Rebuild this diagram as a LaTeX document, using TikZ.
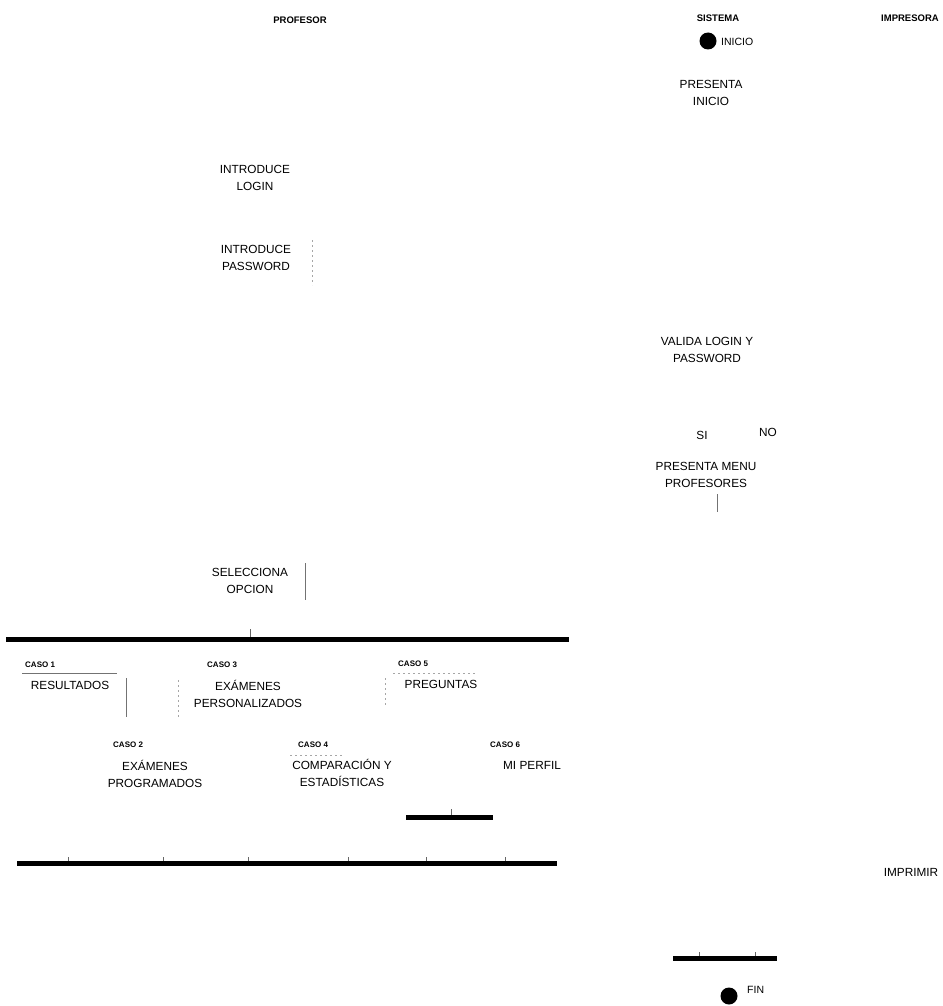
\documentclass[tikz,border=0pt]{standalone}
\usepackage{fontspec}
\setmainfont{Liberation Sans}
\begin{document}
\begin{tikzpicture}[x=1pt,y=-1pt,
  txt/.style={font=\fontsize{11.8}{17}\selectfont, align=center, inner sep=0pt},
  small/.style={font=\fontsize{10.5}{13}\selectfont, inner sep=0pt},
  hdr/.style={font=\fontsize{9.5}{11}\selectfont\bfseries, inner sep=0pt},
  caso/.style={font=\fontsize{8}{10}\selectfont\bfseries, inner sep=0pt},
  dot/.style={circle, fill=black, inner sep=0pt, minimum size=17pt},
  bar/.style={line width=5pt},
  tick/.style={black!60, line width=0.7pt},
  frag/.style={black!55, line width=0.8pt},
  fragd/.style={black!35, line width=0.7pt, dash pattern=on 2pt off 3pt}]
\useasboundingbox (0,0) rectangle (942,1006);

% swimlane headers
\node[hdr] (hprof) at (300,20) {PROFESOR};
\node[hdr] (hsis)  at (718,18) {SISTEMA};
\node[hdr] (himp)  at (910,18) {IMPRESORA};

% start
\node[dot] (inicio) at (708,41) {};
\node[small, anchor=west] (tinicio) at (721,42) {INICIO};

% system and teacher actions
\node[txt] (presinicio) at (711,93) {PRESENTA\\INICIO};
\node[txt] (login) at (255,178) {INTRODUCE\\LOGIN};
\node[txt] (passw) at (256,258) {INTRODUCE\\PASSWORD};
\node[txt] (valida) at (707,350) {VALIDA LOGIN Y\\PASSWORD};
\node[txt] (si) at (702,435) {SI};
\node[txt] (no) at (768,432) {NO};
\node[txt] (menu) at (706,475) {PRESENTA MENU\\PROFESORES};
\node[txt] (selec) at (250,581) {SELECCIONA\\OPCION};

% fragments of action borders
\draw[fragd] (312,240) -- (312,285);
\draw[frag] (305,563) -- (305,600);
\draw[frag] (717,494) -- (717,512);

% fork bar
\coordinate (forkL) at (6,639);
\coordinate (forkR) at (569,639);
\draw[bar] (forkL) -- (forkR);
\draw[tick] (250,629) -- (250,637);

% cases
\node[caso, anchor=west] (c1) at (25,665) {CASO 1};
\node[txt] (res) at (70,685) {RESULTADOS};
\draw[frag] (22,673) -- (117,673);
\draw[frag] (126,678) -- (126,717);

\node[caso, anchor=west] (c3) at (207,665) {CASO 3};
\node[txt] (pers) at (248,694) {EXÁMENES\\PERSONALIZADOS};
\draw[fragd] (178,680) -- (178,717);

\node[caso, anchor=west] (c5) at (398,664) {CASO 5};
\node[txt] (preg) at (441,684) {PREGUNTAS};
\draw[fragd] (393,673) -- (477,673);
\draw[fragd] (385,678) -- (385,707);

\node[caso, anchor=west] (c2) at (113,745) {CASO 2};
\node[txt] (prog) at (155,774) {EXÁMENES\\PROGRAMADOS};

\node[caso, anchor=west] (c4) at (298,745) {CASO 4};
\node[txt] (comp) at (342,773) {COMPARACIÓN Y\\ESTADÍSTICAS};
\draw[fragd] (290,755) -- (342,755);

\node[caso, anchor=west] (c6) at (490,745) {CASO 6};
\node[txt] (perfil) at (532,765) {MI PERFIL};

% join bars
\coordinate (j1L) at (406,817);
\coordinate (j1R) at (493,817);
\draw[bar] (j1L) -- (j1R);
\draw[tick] (451,809) -- (451,815);

\coordinate (j2L) at (17,863);
\coordinate (j2R) at (557,863);
\draw[bar] (j2L) -- (j2R);
\foreach \t in {68,163,248,348,426,505}
  \draw[tick] (\t,857) -- (\t,861);

% printer
\node[txt] (imprimir) at (911,872) {IMPRIMIR};

% final bar and end
\coordinate (j3L) at (673,958);
\coordinate (j3R) at (777,958);
\draw[bar] (j3L) -- (j3R);
\draw[tick] (699,952) -- (699,956);
\draw[tick] (755,952) -- (755,956);

\node[dot] (fin) at (729,996) {};
\node[small, anchor=west] (tfin) at (747,990) {FIN};
\end{tikzpicture}
\end{document}
